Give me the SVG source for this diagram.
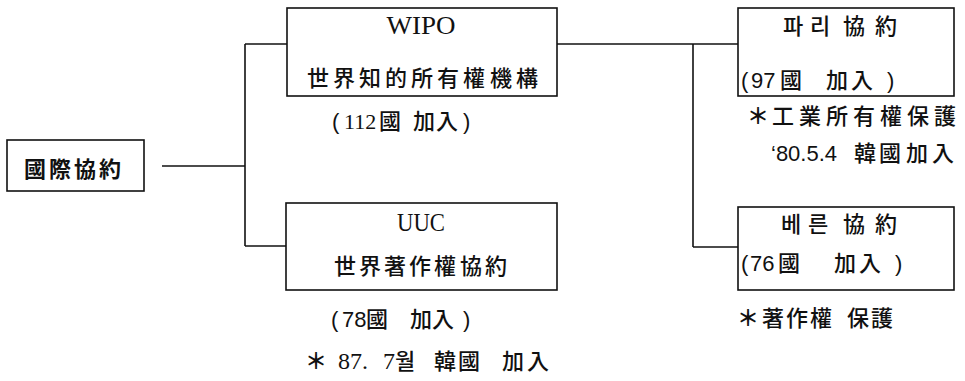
<svg xmlns="http://www.w3.org/2000/svg" width="965" height="381" viewBox="0 0 965 381">
<style>
.box{fill:#fff;stroke:#111;stroke-width:1.6}
.ln{fill:none;stroke:#111;stroke-width:1.6}
.t{font-family:"Noto Sans CJK KR","Noto Sans CJK TC",sans-serif;font-size:22px;fill:#111;font-weight:500}
.d{font-family:"Liberation Sans",sans-serif;font-weight:400}
.sf{font-family:"Liberation Serif",serif;font-weight:400}
.s{font-family:"Liberation Serif",serif;font-size:26px;fill:#111;text-anchor:middle}
.b{font-weight:700}
.a{font-weight:700}
</style>
<rect width="965" height="381" fill="#fff"/>
<g id="connectors">
<line class="ln" x1="162" y1="166" x2="245" y2="166" stroke-width="2.2"/>
<line class="ln" x1="245" y1="44" x2="245" y2="246"/>
<line class="ln" x1="245" y1="44" x2="287" y2="44"/>
<line class="ln" x1="245" y1="246" x2="286" y2="246"/>
<line class="ln" x1="557" y1="44" x2="738" y2="44"/>
<line class="ln" x1="693" y1="44" x2="693" y2="247"/>
<line class="ln" x1="693" y1="247" x2="738" y2="247"/>
</g>
<g id="root">
<rect class="box" x="7" y="140" width="137" height="51"/>
<text class="t b" font-size="23" x="24 49 74 99" y="177">國際協約</text>
</g>
<g id="wipo">
<rect class="box" x="287" y="8" width="270" height="88"/>
<text class="s" x="421" y="34" textLength="69" lengthAdjust="spacingAndGlyphs">WIPO</text>
<text class="t" x="307 333 359 385 411 437 463 490 516" y="85.5">世界知的所有權機構</text>
<text class="t" y="128.5"><tspan class="d" x="332">(</tspan><tspan class="sf" x="344">112</tspan><tspan x="379">國</tspan><tspan x="413 436">加入</tspan><tspan class="d" x="463">)</tspan></text>
</g>
<g id="uuc">
<rect class="box" x="286" y="203" width="271" height="87"/>
<text class="s" x="421" y="231" textLength="48" lengthAdjust="spacingAndGlyphs">UUC</text>
<text class="t" x="334 359 384 409 434 460 485" y="273.5">世界著作權協約</text>
<text class="t" y="326.5"><tspan class="d" x="331">(</tspan><tspan class="d" x="342">78</tspan><tspan x="366">國</tspan><tspan x="410 432">加入</tspan><tspan class="d" x="463">)</tspan></text>
<text class="t" y="368.5"><tspan class="a" x="305">＊</tspan><tspan class="sf" font-size="24" x="338">87.</tspan><tspan class="sf" font-size="24" x="383">7</tspan><tspan x="395">월</tspan><tspan x="434 458">韓國</tspan><tspan x="502 527">加入</tspan></text>
</g>
<g id="paris">
<rect class="box" x="738" y="8" width="216" height="88"/>
<text class="t" x="783 810 843 875" y="33.5">파리協約</text>
<text class="t" y="87.5"><tspan class="d" x="741">(</tspan><tspan class="d" x="751">97</tspan><tspan x="780">國</tspan><tspan x="826 851">加入</tspan><tspan class="d" x="887">)</tspan></text>
<text class="t" y="123.5"><tspan class="a" x="747">＊</tspan><tspan x="772 799 826 853 880 907 934">工業所有權保護</tspan></text>
<text class="t" y="160.5"><tspan class="d" x="771">‘80.5.4</tspan><tspan x="854 879 906 932">韓國加入</tspan></text>
</g>
<g id="berne">
<rect class="box" x="738" y="207" width="216" height="83"/>
<text class="t" x="781 808 843 875" y="231.5">베른協約</text>
<text class="t" y="270.5"><tspan class="d" x="741">(</tspan><tspan class="d" x="750">76</tspan><tspan x="778">國</tspan><tspan x="834 859">加入</tspan><tspan class="d" x="895">)</tspan></text>
<text class="t" y="325.5"><tspan class="a" x="737">＊</tspan><tspan x="762 786 810">著作權</tspan><tspan x="847 871">保護</tspan></text>
</g>
</svg>
